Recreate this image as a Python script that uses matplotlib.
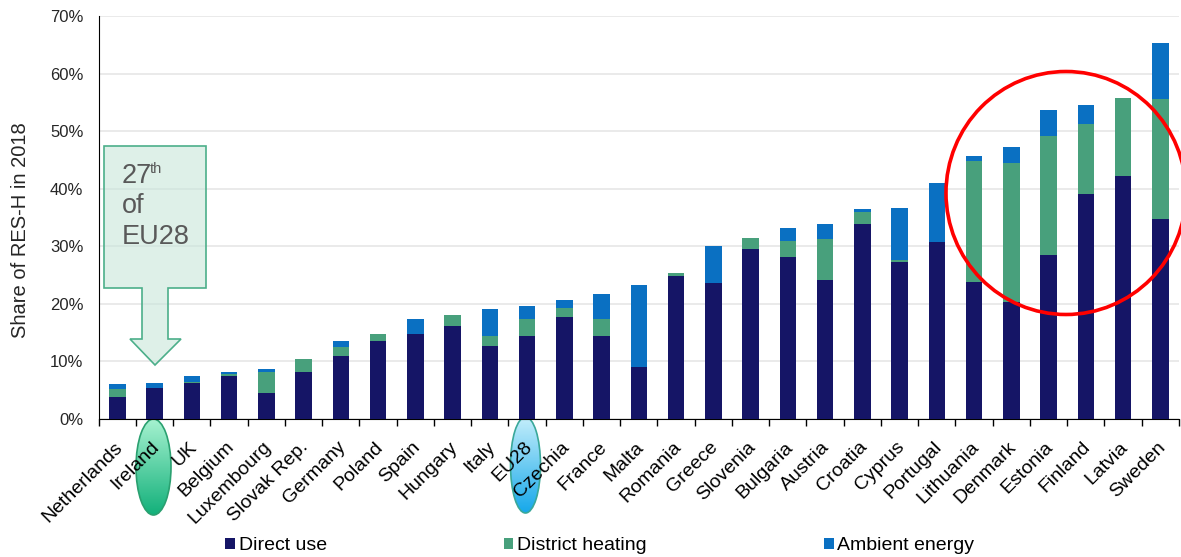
import numpy as np
import matplotlib.pyplot as plt
from matplotlib.patches import Ellipse, Polygon, Patch
from matplotlib.colors import LinearSegmentedColormap

plt.rcParams['font.family'] = ['Liberation Sans', 'DejaVu Sans']

# data (share of RES-H in 2018, %)
countries = ['Netherlands', 'Ireland', 'UK', 'Belgium', 'Luxembourg', 'Slovak Rep.',
             'Germany', 'Poland', 'Spain', 'Hungary', 'Italy', 'EU28', 'Czechia',
             'France', 'Malta', 'Romania', 'Greece', 'Slovenia', 'Bulgaria', 'Austria',
             'Croatia', 'Cyprus', 'Portugal', 'Lithuania', 'Denmark', 'Estonia',
             'Finland', 'Latvia', 'Sweden']
direct = [3.9, 5.4, 6.2, 7.5, 4.6, 8.2, 10.9, 13.5, 14.8, 16.2, 12.7, 14.4, 17.7,
          14.5, 9.1, 24.8, 23.6, 29.6, 28.1, 24.2, 33.8, 27.3, 30.7, 23.8, 20.4,
          28.4, 39.0, 42.2, 34.7]
district = [1.3, 0.0, 0.2, 0.3, 3.6, 2.3, 1.6, 1.2, 0.0, 1.9, 1.7, 2.9, 1.6,
            2.9, 0.0, 0.6, 0.0, 1.9, 2.8, 7.1, 2.2, 0.3, 0.0, 21.0, 24.1,
            20.8, 12.2, 13.6, 20.8]
ambient = [0.8, 0.9, 1.0, 0.4, 0.5, 0.0, 1.0, 0.1, 2.5, 0.0, 4.7, 2.3, 1.3,
           4.3, 14.2, 0.0, 6.5, 0.0, 2.3, 2.6, 0.4, 9.0, 10.3, 0.8, 2.8,
           4.4, 3.3, 0.0, 9.8]
series_names = ['Direct use', 'District heating', 'Ambient energy']
colors = ['#151566', '#48a07c', '#0a70c2']
yticks = [0, 10, 20, 30, 40, 50, 60, 70]

W, H = 1181, 557
fig = plt.figure(figsize=(W / 100, H / 100), dpi=100)

# helper axes in pixel coordinates (behind and in front of the chart)
back = fig.add_axes([0, 0, 1, 1], zorder=0)
front = fig.add_axes([0, 0, 1, 1], zorder=2)
for a in (back, front):
    a.set_xlim(0, W)
    a.set_ylim(H, 0)
    a.axis('off')
    a.patch.set_alpha(0)

ax = fig.add_axes([98.7 / W, (H - 419) / H, (1179 - 98.7) / W, (419 - 16) / H], zorder=1)
ax.patch.set_alpha(0)

x = np.arange(len(countries))
d = np.array(direct)
g = np.array(district)
a_ = np.array(ambient)
ax.bar(x, d, width=0.44, color=colors[0], zorder=3)
ax.bar(x, g, width=0.44, bottom=d, color=colors[1], zorder=3)
ax.bar(x, a_, width=0.44, bottom=d + g, color=colors[2], zorder=3)

ax.set_xlim(-0.5, len(countries) - 0.5)
ax.set_ylim(0, 70)
ax.set_yticks(yticks)
ax.set_yticklabels([f'{v}%' for v in yticks], fontsize=12, color='#262626')
ax.tick_params(axis='y', length=0, pad=11)
ax.yaxis.grid(True, color='#e6e6e6', linewidth=1.2, zorder=0)
ax.set_axisbelow(True)

# tick marks between categories, labels slightly left of centre
ax.set_xticks(np.arange(-0.5, len(countries)), minor=False)
ax.set_xticklabels([])
ax.set_xticks(x - 0.1, minor=True)
ax.set_xticklabels(countries, minor=True, rotation=45, ha='right',
                   rotation_mode='anchor', fontsize=14)
ax.tick_params(axis='x', which='major', length=5, direction='out', width=1)
ax.tick_params(axis='x', which='minor', length=0, pad=14)

for s in ['top', 'right']:
    ax.spines[s].set_visible(False)

fig.text(21 / W, 1 - 230 / H, 'Share of RES-H in 2018', rotation=90,
         ha='center', va='center', fontsize=14.5, color='#262626')

# legend
handles = [Patch(facecolor=c, edgecolor='none') for c in colors]
fig.legend(handles, series_names, loc='center left',
           bbox_to_anchor=(225 / W, 1 - 546 / H), ncol=3, frameon=False,
           fontsize=14, handlelength=0.5, handleheight=0.5, handletextpad=0.2,
           columnspacing=9.1, borderpad=0, borderaxespad=0)


# gradient ellipses behind the labels
def grad_ellipse(cx, cy, w, h, top, bottom, edge):
    e = Ellipse((cx, cy), w, h, facecolor='none', edgecolor=edge, lw=1.2)
    back.add_patch(e)
    cmap = LinearSegmentedColormap.from_list('g', [top, bottom])
    grad = np.linspace(0, 1, 256).reshape(-1, 1)
    im = back.imshow(grad, cmap=cmap, aspect='auto', origin='upper',
                     extent=(cx - w / 2, cx + w / 2, cy + h / 2, cy - h / 2))
    im.set_clip_path(e)


grad_ellipse(153.5, 467, 35, 96, '#a6f2d0', '#12b07a', '#2aa070')
grad_ellipse(525.5, 465, 30, 96, '#c4eefb', '#16a8ea', '#3aa89a')
back.set_xlim(0, W)
back.set_ylim(H, 0)

# annotation arrow box
pts = [(104, 146), (206, 146), (206, 288), (168, 288), (168, 339), (181, 339),
       (155, 365), (130, 339), (142, 339), (142, 288), (104, 288)]
front.add_patch(Polygon(pts, closed=True, facecolor='#c8e6da', alpha=0.6,
                        edgecolor='none'))
front.add_patch(Polygon(pts, closed=True, facecolor='none', edgecolor='#4caf8a', lw=1.2))
front.text(122, 183, '27', fontsize=19.5, color='#595959', va='baseline')
front.text(150, 173, 'th', fontsize=10.5, color='#595959', va='baseline')
front.text(122, 213, 'of', fontsize=19.5, color='#595959', va='baseline')
front.text(122, 244, 'EU28', fontsize=19.5, color='#595959', va='baseline')

# red circle
front.add_patch(Ellipse((1066, 193), 240, 243, facecolor='none', edgecolor='#ff0000',
                        lw=2.6, clip_on=False))
front.set_xlim(0, W)
front.set_ylim(H, 0)

fig.savefig('out.png', dpi=100)
